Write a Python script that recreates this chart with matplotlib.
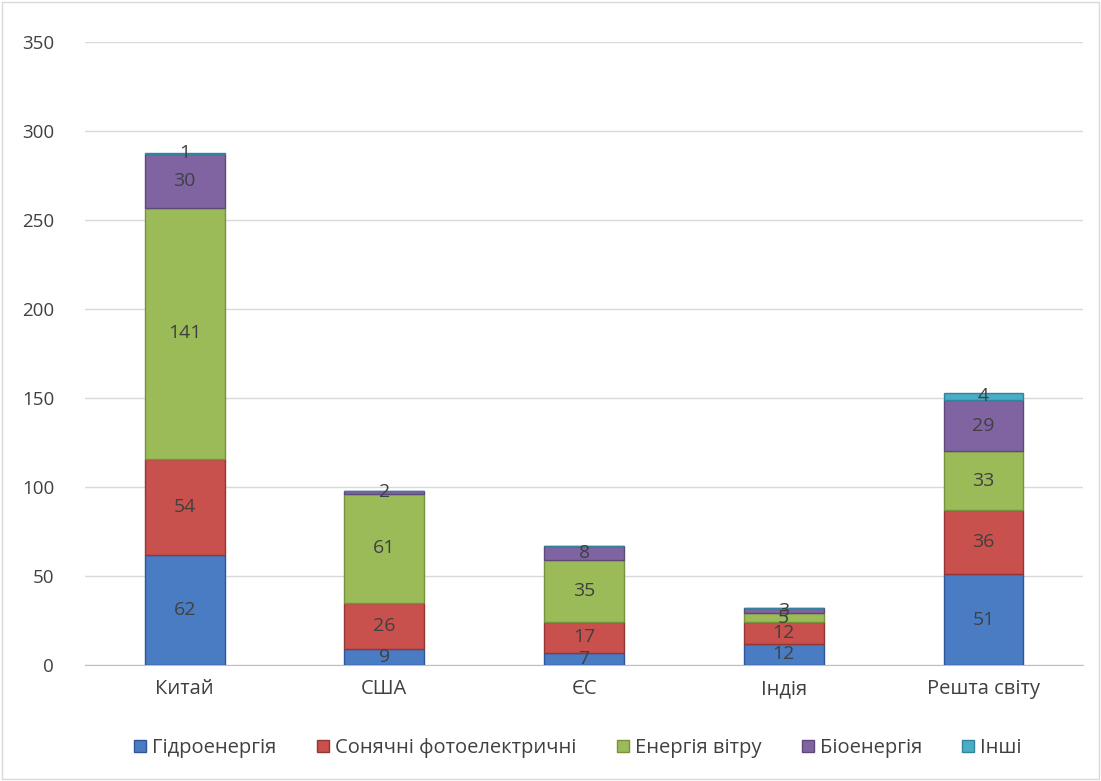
import matplotlib.pyplot as plt
import numpy as np

categories = ['Китай', 'США', 'ЄС', 'Індія', 'Решта світу']
series_names = ['Гідроенергія', 'Сонячні фотоелектричні', 'Енергія вітру', 'Біоенергія', 'Інші']
hydro = [62, 9, 7, 12, 51]
solar = [54, 26, 17, 12, 36]
wind = [141, 61, 35, 5, 33]
bio = [30, 2, 8, 3, 29]
other = [1, 0, 0, 0, 4]
yticks = [0, 50, 100, 150, 200, 250, 300, 350]

colors = ['#4A7CC4', '#C8504D', '#9BBB59', '#8064A2', '#4BACC6']
edges = ['#2F5597', '#943634', '#76923C', '#5F497A', '#31849B']

plt.rcParams['font.family'] = ['Open Sans', 'DejaVu Sans']
fig = plt.figure(figsize=(11.01, 7.81), dpi=100)
ax = fig.add_axes([0.077, 0.1485, 0.907, 0.7975])

x = np.arange(len(categories))
bottom = np.zeros(len(categories))
for name, vals, c, ec in zip(series_names, [hydro, solar, wind, bio, other], colors, edges):
    vals = np.array(vals, dtype=float)
    ax.bar(x, vals, 0.4, bottom=bottom, color=c, edgecolor=ec, linewidth=1, label=name, zorder=3)
    for xi, b, v in zip(x, bottom, vals):
        if v > 0:
            ax.text(xi, b + v / 2, f'{int(v)}', ha='center', va='center',
                    fontsize=14, color='#404040', zorder=4)
    bottom += vals

ax.set_xlim(-0.5, 4.5)
ax.set_ylim(0, 350)
ax.set_yticks(yticks)
ax.set_xticks(x)
ax.set_xticklabels(categories)
ax.tick_params(axis='y', length=0, labelsize=13.5, colors='#404040', pad=22)
ax.tick_params(axis='x', length=0, labelsize=14.5, colors='#404040', pad=10)
ax.grid(axis='y', color='#D9D9D9', linewidth=1, zorder=0)
for s in ['top', 'right', 'left']:
    ax.spines[s].set_visible(False)
ax.spines['bottom'].set_color('#BFBFBF')

fig.legend(loc='center', bbox_to_anchor=(0.525, 0.042), ncol=5, frameon=False,
           fontsize=14.5, handlelength=0.6, handleheight=0.6, handletextpad=0.3,
           columnspacing=2.0, labelcolor='#404040')

border = plt.Rectangle((0.002, 0.002), 0.996, 0.996, transform=fig.transFigure,
                       fill=False, edgecolor='#D9D9D9', linewidth=1)
fig.patches.append(border)

fig.savefig('out.png', dpi=100)
